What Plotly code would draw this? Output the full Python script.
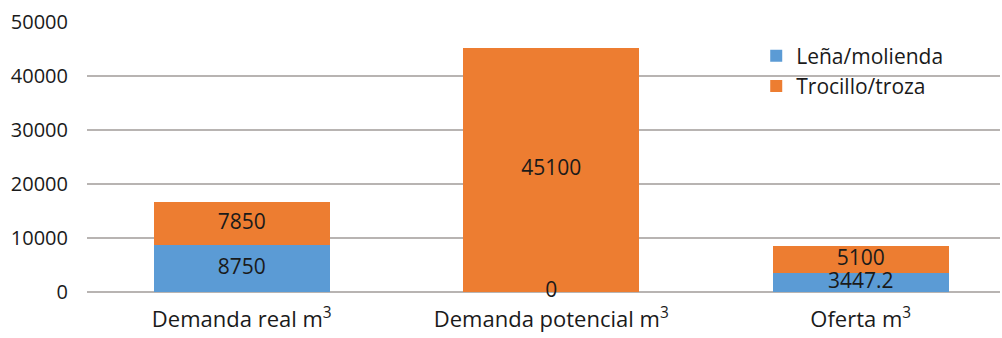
import plotly.graph_objects as go

categories = ["Demanda real m<sup>3</sup>", "Demanda potencial m<sup>3</sup>", "Oferta m<sup>3</sup>"]
lena_molienda = [8750, 0, 3447.2]
trocillo_troza = [7850, 45100, 5100]
series_names = ["Leña/molienda", "Trocillo/troza"]
y_ticks = [0, 10000, 20000, 30000, 40000, 50000]

BLUE = "#5b9bd5"
ORANGE = "#ed7d31"
FONT = "'Open Sans', sans-serif"

fig = go.Figure()
fig.add_trace(go.Bar(x=categories, y=lena_molienda, name=series_names[0],
                     marker=dict(color=BLUE, line=dict(width=0)), width=0.57))
fig.add_trace(go.Bar(x=categories, y=trocillo_troza, name=series_names[1],
                     marker=dict(color=ORANGE, line=dict(width=0)), width=0.57))

# value labels centred in each segment (zero-height segments included)
label_x, label_y, label_t = [], [], []
for c, a, b in zip(categories, lena_molienda, trocillo_troza):
    label_x += [c, c]
    label_y += [a / 2, a + b / 2]
    label_t += [f"{a:g}", f"{b:g}"]
fig.add_trace(go.Scatter(x=label_x, y=label_y, text=label_t, mode="text",
                         textfont=dict(size=21, color="#1a1a1a", family=FONT),
                         showlegend=False, hoverinfo="skip", cliponaxis=False))

fig.update_layout(
    barmode="stack",
    width=1002, height=338,
    margin=dict(l=87, r=2, t=22, b=46),
    plot_bgcolor="white", paper_bgcolor="white",
    font=dict(family=FONT, color="#1a1a1a"),
    legend=dict(x=0.733, y=0.95, xanchor="left", yanchor="top",
                font=dict(size=21, family=FONT), bgcolor="rgba(0,0,0,0)",
                traceorder="normal", itemwidth=30, tracegroupgap=0),
    xaxis=dict(range=[-0.5, 2.45], tickfont=dict(size=22, family=FONT),
               showgrid=False, showline=False, ticks="", ticklabelstandoff=12),
    yaxis=dict(range=[0, 50000], tickvals=y_ticks, ticktext=[str(v) for v in y_ticks],
               tickfont=dict(size=20, family=FONT),
               showgrid=True, gridcolor="#b8b4b2", gridwidth=1.5,
               zeroline=True, zerolinecolor="#b8b4b2", zerolinewidth=1.5,
               ticks="", ticklabelstandoff=18),
)

fig.write_html("out.html")
